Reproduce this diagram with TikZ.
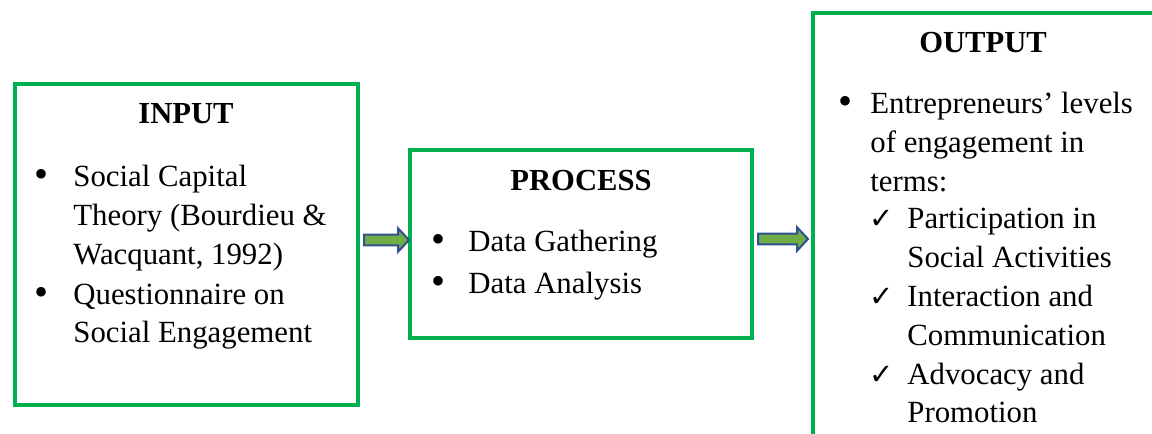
\documentclass[tikz,border=0pt]{standalone}
\usepackage{fontspec}
\setmainfont{Liberation Serif}
\newfontfamily\symfont{DejaVu Sans}
\usetikzlibrary{calc,fit}
\definecolor{boxgreen}{HTML}{00B050}
\definecolor{arrowfill}{HTML}{70AD47}
\definecolor{arrowline}{HTML}{2F528F}
\tikzset{
  box/.style={draw=boxgreen, line width=2pt, fill=white, inner sep=0pt},
  txt/.style={anchor=base west, inner sep=0pt, font=\fontsize{15.4}{19.5}\selectfont},
  ttl/.style={anchor=base, inner sep=0pt, font=\fontsize{15.3}{19.5}\selectfont\bfseries},
  bul/.style={anchor=base, inner sep=0pt, font=\fontsize{20}{19.5}\selectfont},
  chk/.style={anchor=base, inner sep=0pt, font=\fontsize{14.5}{19.5}\symfont},
  blockarrow/.style={draw=arrowline, fill=arrowfill, line width=1pt, line join=miter}
}
\begin{document}
\begin{tikzpicture}[x=0.5pt,y=-0.5pt]
\useasboundingbox (0,0) rectangle (1152,434);
\clip (0,0) rectangle (1152,434);
% boxes
\coordinate (in-nw) at (15,84);   \coordinate (in-se) at (358,405);
\coordinate (pr-nw) at (410,150); \coordinate (pr-se) at (752,338);
\coordinate (out-nw) at (813,13); \coordinate (out-se) at (1170,450);
\node[box, fit=(in-nw)(in-se)] (input) {};
\node[box, fit=(pr-nw)(pr-se)] (process) {};
\node[box, fit=(out-nw)(out-se)] (output) {};
% arrows
\draw[blockarrow] let \p1=($(input.east)+(4,-4.5)$), \p2=($(process.west)+(1,-4.5)$) in
  (\x1,\y1+2.7pt) -- (\x2-5.5pt,\y1+2.7pt) -- (\x2-5.5pt,\y1+5.9pt) -- (\x2,\y1)
  -- (\x2-5.5pt,\y1-5.9pt) -- (\x2-5.5pt,\y1-2.7pt) -- (\x1,\y1-2.7pt) -- cycle;
\draw[blockarrow] let \p1=($(process.east)+(4,-5)$), \p2=($(output.west)+(-3,-5)$) in
  (\x1,\y1+2.7pt) -- (\x2-5.5pt,\y1+2.7pt) -- (\x2-5.5pt,\y1+5.9pt) -- (\x2,\y1)
  -- (\x2-5.5pt,\y1-5.9pt) -- (\x2-5.5pt,\y1-2.7pt) -- (\x1,\y1-2.7pt) -- cycle;
% INPUT
\node[ttl] (inTitle) at (186,123) {INPUT};
\node[bul] (inB1) at (42,187) {•};
\node[txt] (inL1) at (73,186) {Social Capital};
\node[txt] (inL2) at (73,225) {Theory (Bourdieu \&};
\node[txt] (inL3) at (73,264) {Wacquant, 1992)};
\node[bul] (inB2) at (42,305) {•};
\node[txt] (inL4) at (73,304) {Questionnaire on};
\node[txt] (inL5) at (73,342) {Social Engagement};
% PROCESS
\node[ttl] (prTitle) at (581,190) {PROCESS};
\node[bul] (prB1) at (438,252) {•};
\node[txt] (prL1) at (468,251) {Data Gathering};
\node[bul] (prB2) at (438,294) {•};
\node[txt] (prL2) at (468,293) {Data Analysis};
% OUTPUT
\node[ttl] (outTitle) at (983,52) {OUTPUT};
\node[bul] (outB1) at (845,114) {•};
\node[txt] (outL1) at (870,113) {Entrepreneurs’ levels};
\node[txt] (outL2) at (870,152) {of engagement in};
\node[txt] (outL3) at (870,191) {terms:};
\node[chk] (outC1) at (882,228) {✓};
\node[txt] (outL4) at (907,228) {Participation in};
\node[txt] (outL5) at (907,267) {Social Activities};
\node[chk] (outC2) at (882,306) {✓};
\node[txt] (outL6) at (907,306) {Interaction and};
\node[txt] (outL7) at (907,345) {Communication};
\node[chk] (outC3) at (882,384) {✓};
\node[txt] (outL8) at (907,384) {Advocacy and};
\node[txt] (outL9) at (907,422) {Promotion};
\end{tikzpicture}
\end{document}
